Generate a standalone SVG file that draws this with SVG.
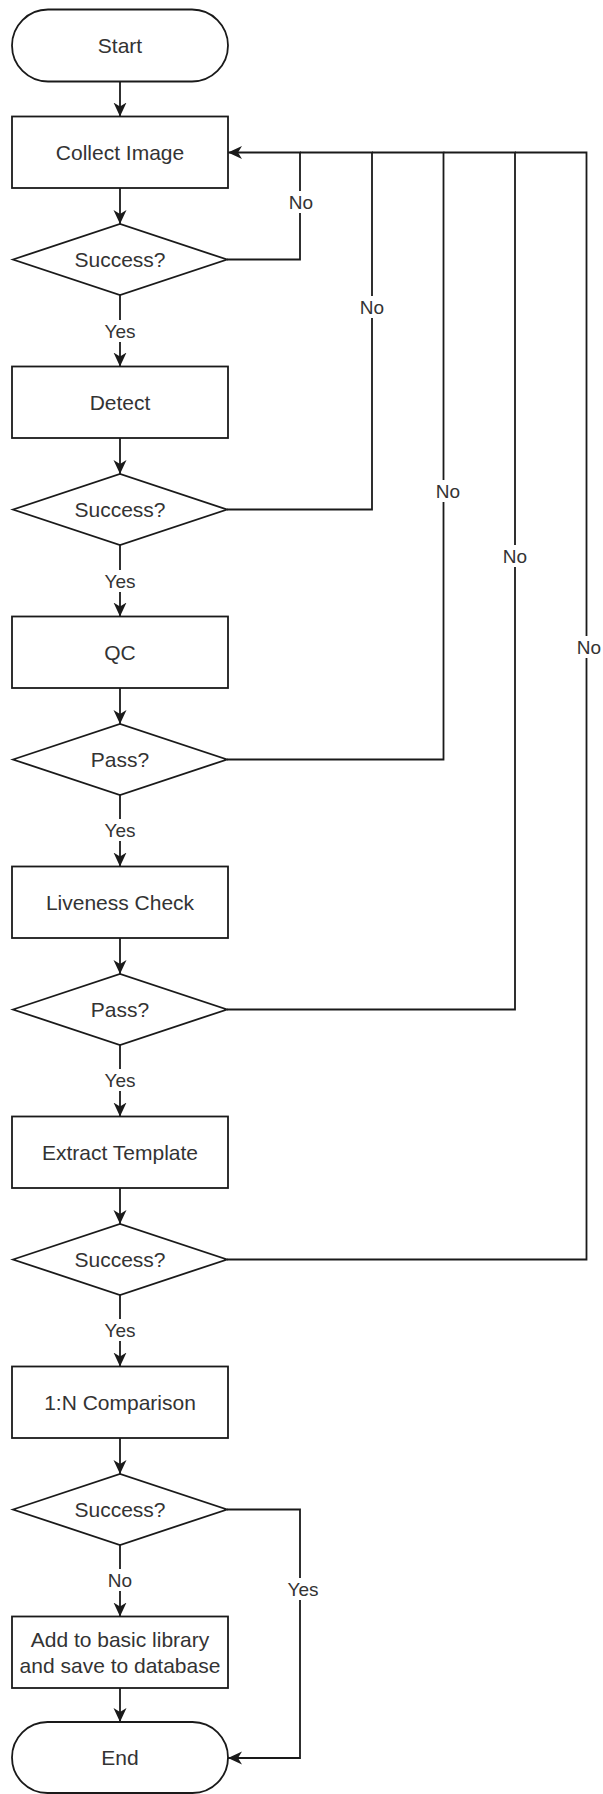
<svg xmlns="http://www.w3.org/2000/svg" width="603" height="1794" viewBox="0 0 603 1794">
<style>
.shape{fill:#ffffff;stroke:#1a1a1a;stroke-width:1.8}
.t{font-family:"Liberation Sans",Arial,sans-serif;font-size:21px;fill:#333333;text-anchor:middle;dominant-baseline:central}
.lbl{font-family:"Liberation Sans",Arial,sans-serif;font-size:19px;fill:#333333;text-anchor:middle;dominant-baseline:central}
.lbg{fill:#ffffff;stroke:none}
.c{fill:none;stroke:#1a1a1a;stroke-width:1.8}
.ca{fill:none;stroke:#1a1a1a;stroke-width:1.8;marker-end:url(#arr)}
</style>
<defs>
<marker id="arr" markerUnits="userSpaceOnUse" markerWidth="16" markerHeight="14" refX="14" refY="6.5" orient="auto">
<path d="M0,0 L14,6.5 L0,13 L4,6.5 z" fill="#1a1a1a"/>
</marker>
</defs>
<rect width="603" height="1794" fill="#ffffff"/>

<g id="connectors">
<line class="ca" x1="120" y1="81.5" x2="120" y2="116.5"/>
<line class="ca" x1="120" y1="188" x2="120" y2="224"/>
<line class="ca" x1="120" y1="295" x2="120" y2="366.5"/>
<line class="ca" x1="120" y1="438" x2="120" y2="474"/>
<line class="ca" x1="120" y1="545" x2="120" y2="616.5"/>
<line class="ca" x1="120" y1="688" x2="120" y2="724"/>
<line class="ca" x1="120" y1="795" x2="120" y2="866.5"/>
<line class="ca" x1="120" y1="938" x2="120" y2="974"/>
<line class="ca" x1="120" y1="1045" x2="120" y2="1116.5"/>
<line class="ca" x1="120" y1="1188" x2="120" y2="1224"/>
<line class="ca" x1="120" y1="1295" x2="120" y2="1366.5"/>
<line class="ca" x1="120" y1="1438" x2="120" y2="1474"/>
<line class="ca" x1="120" y1="1545" x2="120" y2="1616.5"/>
<line class="ca" x1="120" y1="1688" x2="120" y2="1722"/>
<polyline class="ca" points="227,259.5 300,259.5 300,152.5 228,152.5"/>
<polyline class="c" points="227,509.5 372,509.5 372,152.5 300,152.5"/>
<polyline class="c" points="227,759.5 443.5,759.5 443.5,152.5 372,152.5"/>
<polyline class="c" points="227,1009.5 515,1009.5 515,152.5 443.5,152.5"/>
<polyline class="c" points="227,1259.5 586.5,1259.5 586.5,152.5 515,152.5"/>
<polyline class="ca" points="227,1509.5 300,1509.5 300,1758 228,1758"/>

<rect class="lbg" x="104" y="320" width="32" height="22"/><text class="lbl" x="120" y="331">Yes</text>
<rect class="lbg" x="104" y="570" width="32" height="22"/><text class="lbl" x="120" y="581">Yes</text>
<rect class="lbg" x="104" y="819" width="32" height="22"/><text class="lbl" x="120" y="830">Yes</text>
<rect class="lbg" x="104" y="1069" width="32" height="22"/><text class="lbl" x="120" y="1080">Yes</text>
<rect class="lbg" x="104" y="1319" width="32" height="22"/><text class="lbl" x="120" y="1330">Yes</text>
<rect class="lbg" x="106" y="1569" width="28" height="22"/><text class="lbl" x="120" y="1580">No</text>
<rect class="lbg" x="286" y="1578" width="34" height="22"/><text class="lbl" x="303" y="1589">Yes</text>
<rect class="lbg" x="288" y="191" width="26" height="22"/><text class="lbl" x="301" y="202">No</text>
<rect class="lbg" x="359" y="296" width="26" height="22"/><text class="lbl" x="372" y="307">No</text>
<rect class="lbg" x="435" y="480" width="26" height="22"/><text class="lbl" x="448" y="491">No</text>
<rect class="lbg" x="502" y="545" width="26" height="22"/><text class="lbl" x="515" y="556">No</text>
<rect class="lbg" x="576" y="636" width="26" height="22"/><text class="lbl" x="589" y="647">No</text>
</g>

<g id="start"><rect class="shape" x="12" y="9.5" width="216" height="72" rx="36" ry="36"/><text class="t" x="120" y="45.5">Start</text></g>
<g id="collect"><rect class="shape" x="12" y="116.5" width="216" height="71.5"/><text class="t" x="120" y="152.5">Collect Image</text></g>
<g id="dec1"><polygon class="shape" points="13,259.5 120,224 227,259.5 120,295"/><text class="t" x="120" y="259.5">Success?</text></g>
<g id="detect"><rect class="shape" x="12" y="366.5" width="216" height="71.5"/><text class="t" x="120" y="402">Detect</text></g>
<g id="dec2"><polygon class="shape" points="13,509.5 120,474 227,509.5 120,545"/><text class="t" x="120" y="509.5">Success?</text></g>
<g id="qc"><rect class="shape" x="12" y="616.5" width="216" height="71.5"/><text class="t" x="120" y="652.5">QC</text></g>
<g id="dec3"><polygon class="shape" points="13,759.5 120,724 227,759.5 120,795"/><text class="t" x="120" y="759.5">Pass?</text></g>
<g id="liveness"><rect class="shape" x="12" y="866.5" width="216" height="71.5"/><text class="t" x="120" y="902">Liveness Check</text></g>
<g id="dec4"><polygon class="shape" points="13,1009.5 120,974 227,1009.5 120,1045"/><text class="t" x="120" y="1009.5">Pass?</text></g>
<g id="extract"><rect class="shape" x="12" y="1116.5" width="216" height="71.5"/><text class="t" x="120" y="1152.5">Extract Template</text></g>
<g id="dec5"><polygon class="shape" points="13,1259.5 120,1224 227,1259.5 120,1295"/><text class="t" x="120" y="1259.5">Success?</text></g>
<g id="compare"><rect class="shape" x="12" y="1366.5" width="216" height="71.5"/><text class="t" x="120" y="1402">1:N Comparison</text></g>
<g id="dec6"><polygon class="shape" points="13,1509.5 120,1474 227,1509.5 120,1545"/><text class="t" x="120" y="1509.5">Success?</text></g>
<g id="add"><rect class="shape" x="12" y="1616.5" width="216" height="71.5"/><text class="t" x="120" y="1639">Add to basic library</text><text class="t" x="120" y="1665">and save to database</text></g>
<g id="end"><rect class="shape" x="12" y="1722" width="216" height="71" rx="35.5" ry="35.5"/><text class="t" x="120" y="1757.5">End</text></g>
</svg>
